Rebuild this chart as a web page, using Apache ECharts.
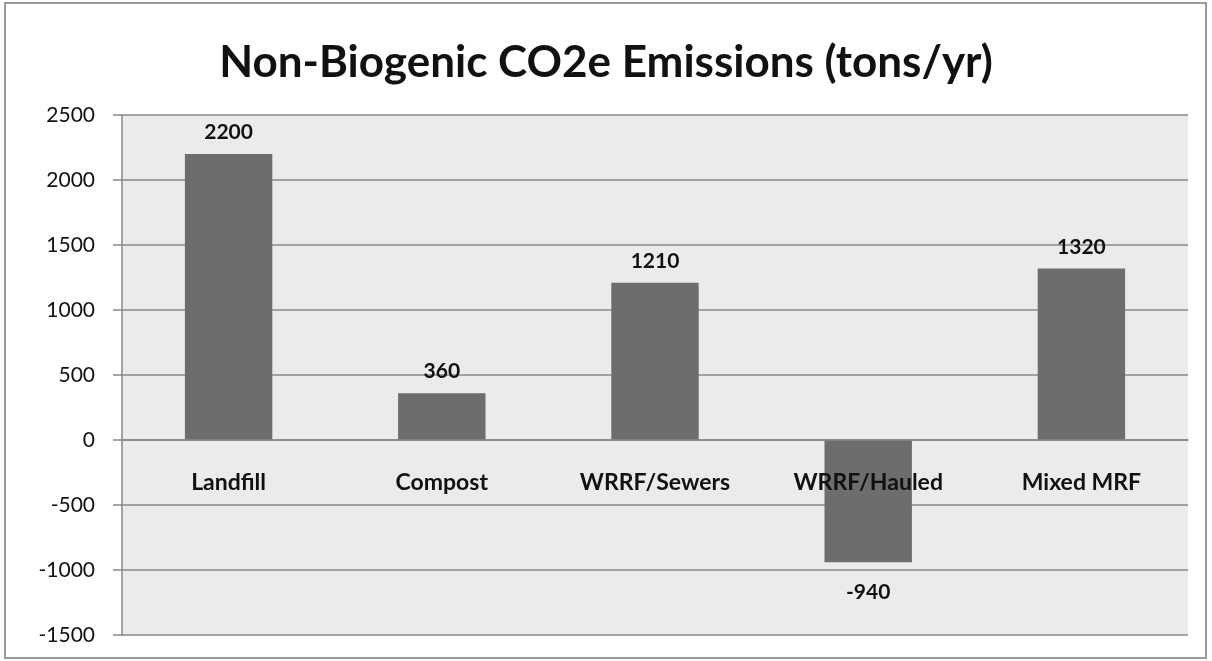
<!DOCTYPE html>
<html>
<head>
<meta charset="utf-8">
<script src="https://cdn.jsdelivr.net/npm/echarts@6/dist/echarts.min.js"></script>
<style>
  html, body { margin: 0; padding: 0; background: #fff; }
  #chart { width: 1212px; height: 661px; }
</style>
</head>
<body>
<div id="chart"></div>
<script>
// data
var categories = ['Landfill', 'Compost', 'WRRF/Sewers', 'WRRF/Hauled', 'Mixed MRF'];
var emissions = [2200, 360, 1210, -940, 1320];
var yMin = -1500, yMax = 2500, yStep = 500;

var chart = echarts.init(document.getElementById('chart'));
var font = 'Lato, "Open Sans", sans-serif';

// grid geometry, the category axis sits on the zero line
var gridTop = 115, gridBottom = 26, gridH = 661 - gridTop - gridBottom;
var zeroShift = -gridH * (0 - yMin) / (yMax - yMin);

chart.setOption({
    animation: false,
    backgroundColor: '#ffffff',
    graphic: [{
        type: 'rect',
        shape: { x: 5, y: 3, width: 1201, height: 655 },
        style: { fill: 'none', stroke: '#9a9a9a', lineWidth: 2 },
        silent: true
    }],
    title: {
        text: 'Non-Biogenic CO2e Emissions (tons/yr)',
        left: 'center',
        top: 36,
        textStyle: { fontFamily: font, fontSize: 44, fontWeight: 'bold', color: '#111' }
    },
    grid: {
        left: 122, right: 24, top: gridTop, bottom: gridBottom,
        outerBoundsMode: 'none', containLabel: false,
        show: true, backgroundColor: '#ebebeb', borderWidth: 0
    },
    xAxis: {
        type: 'category',
        data: categories,
        offset: zeroShift,
        z: 5,
        axisLine: { onZero: false, lineStyle: { color: '#888', width: 1.5 } },
        axisTick: { show: false },
        axisLabel: { margin: 31, fontFamily: font, fontSize: 23, fontWeight: 'bold', color: '#111' }
    },
    yAxis: {
        type: 'value',
        min: yMin,
        max: yMax,
        interval: yStep,
        axisLine: { show: true, onZero: false, lineStyle: { color: '#888', width: 1.5 } },
        axisTick: { show: true, length: 9, lineStyle: { color: '#888', width: 1.5 } },
        axisLabel: { margin: 27, fontFamily: font, fontSize: 21, color: '#111', formatter: function (v) { return String(v); } },
        splitLine: { lineStyle: { color: '#8a8a8a', width: 1.5 } }
    },
    series: [{
        type: 'bar',
        data: emissions.map(function (v) {
            return v < 0 ? { value: v, label: { distance: 20 } } : v;
        }),
        barWidth: '41%',
        itemStyle: { color: '#6d6d6d' },
        label: {
            show: true,
            position: 'outside',
            distance: 11,
            fontFamily: font,
            fontSize: 21,
            fontWeight: 'bold',
            color: '#111'
        }
    }]
});
</script>
</body>
</html>
